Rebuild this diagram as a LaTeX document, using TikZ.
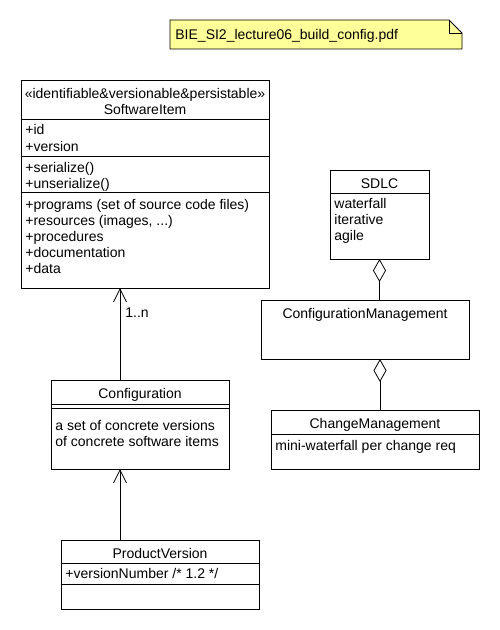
\documentclass[tikz,border=0pt]{standalone}
\usepackage{fontspec}
\setmainfont{Liberation Sans}
\usetikzlibrary{positioning}
\usetikzlibrary{arrows.meta}
\definecolor{notefill}{RGB}{255,255,153}
\tikzset{
	every node/.style = {font=\fontsize{14}{16}\selectfont, inner sep=0pt},
	classbox/.style = {draw, anchor=north west, outer sep=0pt},
	member/.style = {anchor=base west},
	classname/.style = {anchor=base},
	genarrow/.style = {-{Straight Barb[length=13pt, width=13pt]}},
	aggr/.style = {{Diamond[open, length=23pt, width=13pt]}-}
}
\begin{document}
\begin{tikzpicture}[x=1pt, y=-1pt, line width=0.8pt]
		\useasboundingbox (0,0) rectangle (500,630);
		% note
		\filldraw[fill=notefill] (170,20) -- (449,20) -- (462,33) -- (462,49) -- (170,49) -- cycle;
		\draw (449,20) -- (449,33) -- (462,33);
		\node[member] (note) at (175,39) {BIE\_SI2\_lecture06\_build\_config.pdf};
		
		% SoftwareItem
		\node[classbox, minimum width=248pt, minimum height=208pt] (softitem) at (21,80) {};
		\node[classname] (stereo) at (145,98) {«identifiable\&versionable\&persistable»};
		\node[classname] (softname) at (145,114) {SoftwareItem};
		\draw (21,119) -- (269,119);
		\node[member] (id) at (25,134) {+id};
		\node[member] (version) at (25,151) {+version};
		\draw (21,156) -- (269,156);
		\node[member] (ser) at (25,172) {+serialize()};
		\node[member] (unser) at (25,188) {+unserialize()};
		\draw (21,192) -- (269,192);
		\node[member] (programs) at (25,209) {+programs (set of source code files)};
		\node[member] (resources) at (25,225) {+resources (images, ...)};
		\node[member] (procedures) at (25,241) {+procedures};
		\node[member] (docu) at (25,257) {+documentation};
		\node[member] (data) at (25,273) {+data};
		
		% Configuration
		\node[classbox, minimum width=178pt, minimum height=89pt] (config) at (51,380) {};
		\node[classname] (configname) at (140,398) {Configuration};
		\draw (51,404) -- (229,404);
		\draw (51,408) -- (229,408);
		\node[member] (set) at (55,430) {a set of concrete versions};
		\node[member] (concrete) at (55,446) {of concrete software items};
		
		% ProductVersion
		\node[classbox, minimum width=198pt, minimum height=69pt] (prodver) at (61,540) {};
		\node[classname] (prodvername) at (160,558) {ProductVersion};
		\draw (61,563) -- (259,563);
		\node[member] (vnumber) at (65,578) {+versionNumber /* 1.2 */};
		\draw (61,584) -- (259,584);
		
		% SDLC
		\node[classbox, minimum width=99pt, minimum height=89pt] (sdlc) at (330,170) {};
		\node[classname] (sdlcname) at (379.5,188) {SDLC};
		\draw (330,193) -- (429,193);
		\node[member] (waterfall) at (334,208) {waterfall};
		\node[member] (iterative) at (334,224) {iterative};
		\node[member] (agile) at (334,240) {agile};
		
		% ConfigurationManagement
		\node[classbox, minimum width=208pt, minimum height=59pt] (cfgmgmt) at (261,300) {};
		\node[classname] (cfgmgmtname) at (365,318) {ConfigurationManagement};
		
		% ChangeManagement
		\node[classbox, minimum width=208pt, minimum height=59pt] (chgmgmt) at (271,410) {};
		\node[classname] (chgmgmtname) at (375,428) {ChangeManagement};
		\draw (271,434) -- (479,434);
		\node[member] (miniwf) at (275,450) {mini-waterfall per change req};
		
		% connectors
		\draw[genarrow] ([xshift=-20pt]config.north) -- ([xshift=-20pt]config.north |- softitem.south) node[pos=.73, right=5pt] (mult) {1..n};
		\draw[genarrow] ([xshift=-40pt]prodver.north) -- ([xshift=-40pt]prodver.north |- config.south);
		\draw[aggr] (sdlc.south) -- (sdlc.south |- cfgmgmt.north);
		\draw[aggr] ([xshift=15pt]cfgmgmt.south) -- ([xshift=15pt]cfgmgmt.south |- chgmgmt.north);
	\end{tikzpicture}
\end{document}
